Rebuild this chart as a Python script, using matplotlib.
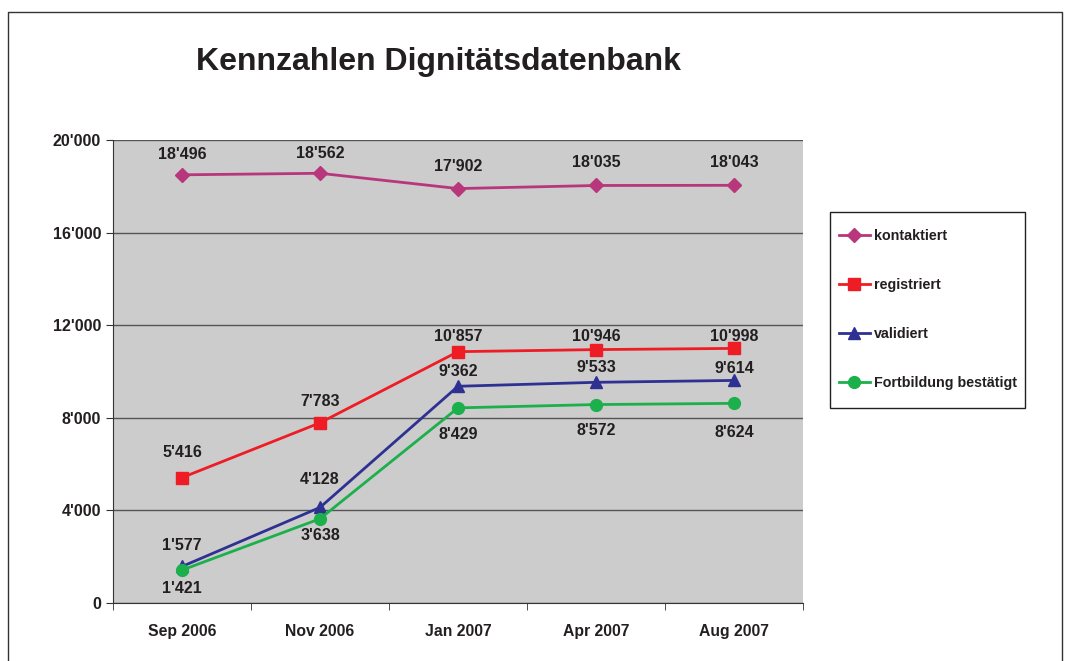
import matplotlib
matplotlib.use("Agg")
import matplotlib.pyplot as plt
from matplotlib.lines import Line2D
from matplotlib.patches import Rectangle

plt.rcParams['font.family'] = ['Liberation Sans', 'DejaVu Sans']
plt.rcParams['font.weight'] = 'bold'

# data
months = ["Sep 2006", "Nov 2006", "Jan 2007", "Apr 2007", "Aug 2007"]
kontaktiert = [18496, 18562, 17902, 18035, 18043]
registriert = [5416, 7783, 10857, 10946, 10998]
validiert = [1577, 4128, 9362, 9533, 9614]
fortbildung = [1421, 3638, 8429, 8572, 8624]
yticks = [0, 4000, 8000, 12000, 16000, 20000]


def fmt(v):
    return "{:,}".format(v).replace(",", "'")


fig = plt.figure(figsize=(10.67, 6.61), dpi=100)
fig.patch.set_facecolor('white')

# outer frame
fig.add_artist(Line2D([8/1067, 8/1067, 1062/1067, 1062/1067],
                      [-0.01, 1-12/661, 1-12/661, -0.01],
                      transform=fig.transFigure, color='#333333', lw=1.0))

ax = fig.add_axes([113/1067, 58/661, 690/1067, 463/661])
ax.set_facecolor('#cccccc')
x = list(range(len(months)))

# label offsets in pixels (placement of data labels)
series = [
    (kontaktiert, 'kontaktiert', '#b8367c', 'D', 7, [20, 20, 22, 23, 23]),
    (registriert, 'registriert', '#ee1c25', 's', 8, [25, 21, 15, 13, 12]),
    (validiert, 'validiert', '#2e3192', '^', 8, [21, 28, 15, 15, 12]),
    (fortbildung, 'Fortbildung bestätigt', '#1cb04c', 'o', 8.5, [-18, -17, -27, -26, -29]),
]
handles = []
for vals, name, col, mk, ms, offs in series:
    h, = ax.plot(x, vals, color=col, marker=mk, markersize=ms, lw=2, label=name, zorder=3)
    handles.append(h)
    for xi, v, off in zip(x, vals, offs):
        ax.annotate(fmt(v), (xi, v), xytext=(0, off), textcoords='offset pixels',
                    ha='center', va='center', fontsize=11.5, fontweight='bold', color='#231f20')

ax.set_xlim(-0.5, 4.5)
ax.set_ylim(0, 20000)
ax.set_yticks(yticks)
ax.set_yticklabels([fmt(v) for v in yticks])
ax.yaxis.grid(True, color='#555555', lw=1)
ax.set_axisbelow(True)
ax.set_xticks(x)
ax.set_xticklabels(months)
ax.tick_params(axis='x', length=0, pad=15, labelsize=11.3, labelcolor='#231f20')
ax.set_xticks([i - 0.5 for i in range(6)], minor=True)
ax.tick_params(axis='x', which='minor', length=5, direction='out', color='#333333')
ax.tick_params(axis='y', length=5, direction='out', labelsize=11.5, color='#333333', labelcolor='#231f20')
for s in ['top', 'right']:
    ax.spines[s].set_visible(False)
ax.spines['left'].set_color('#333333')
ax.spines['bottom'].set_color('#333333')

fig.text(438/1067, 1-62/661, "Kennzahlen Dignitätsdatenbank", ha='center', va='center',
         fontsize=23, fontweight='bold', color='#231f20')

# legend box
fig.add_artist(Rectangle((830/1067, 1-408/661), 195/1067, 196/661, transform=fig.transFigure,
                         facecolor='white', edgecolor='#231f20', lw=1.0, zorder=1))
leg = fig.legend(handles=handles, loc='upper left', bbox_to_anchor=(833/1067, 1-223/661),
                 frameon=False, fontsize=10.3, labelspacing=2.45, handlelength=2.2,
                 handletextpad=0.25, borderpad=0.4, borderaxespad=0)
leg.set_zorder(2)
for t in leg.get_texts():
    t.set_fontweight('bold')
    t.set_color('#231f20')

fig.savefig("out.png", dpi=100)
